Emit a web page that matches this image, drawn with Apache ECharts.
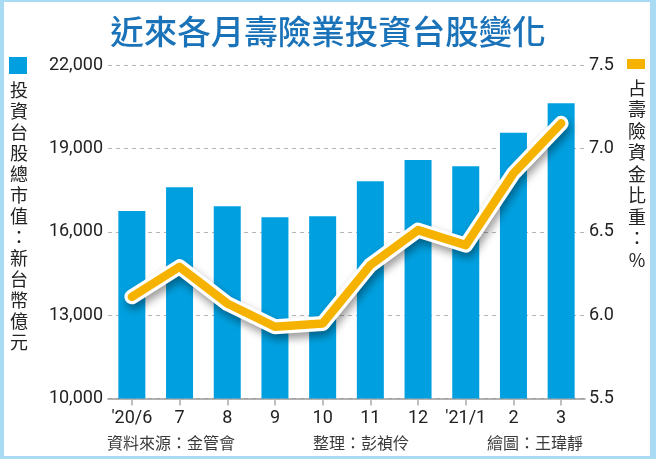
<!DOCTYPE html>
<html>
<head>
<meta charset="utf-8">
<script src="https://cdn.jsdelivr.net/npm/echarts@6/dist/echarts.min.js"></script>
<style>
  html, body { margin: 0; padding: 0; background: #fff; }
  #wrap { position: relative; width: 656px; height: 459px; }
  #chart { position: absolute; left: 0; top: 0; width: 656px; height: 459px; }
  #frame { position: absolute; left: 0; top: 0; width: 656px; height: 459px; box-sizing: border-box;
           border-style: solid; border-color: #a9dbf4; border-width: 2px 6px 3px 4px; pointer-events: none; }
</style>
</head>
<body>
<div id="wrap"><div id="chart"></div><div id="frame"></div></div>
<script>
// ---- data ----
const months = ["'20/6", "7", "8", "9", "10", "11", "12", "'21/1", "2", "3"];
const stockValue = [16750, 17600, 16920, 16520, 16560, 17820, 18580, 18360, 19560, 20620]; // 新台幣億元
const shareRatio = [6.11, 6.29, 6.07, 5.93, 5.95, 6.30, 6.51, 6.42, 6.85, 7.15];           // %
const leftTicks = [10000, 13000, 16000, 19000, 22000];
const rightTicks = [5.5, 6.0, 6.5, 7.0, 7.5];

const titleText = '近來各月壽險業投資台股變化';
const leftLabel = '投資台股總市值：新台幣億元';
const rightLabel = '占壽險資金比重：%';
const sourceText = '資料來源：金管會';
const editorText = '整理：彭禎伶';
const drawerText = '繪圖：王瑋靜';

const BLUE = '#00a0e0';
const YELLOW = '#f5b300';
const CJK = '"Noto Sans CJK TC", "Noto Sans CJK SC", sans-serif';
const NUM = 'Roboto, "Liberation Sans", sans-serif';

const chart = echarts.init(document.getElementById('chart'), null, { renderer: 'canvas' });

chart.setOption({
  backgroundColor: '#fff',
  animation: false,
  title: {
    text: titleText,
    left: 'center',
    top: 10,
    textStyle: { fontFamily: CJK, fontSize: 33.5, fontWeight: 500, color: '#1a72b9' }
  },
  grid: { left: 108, right: 71, top: 65, bottom: 60.5, containLabel: false },
  xAxis: {
    type: 'category',
    data: months,
    axisLine: { show: true, lineStyle: { color: '#999', width: 1.5 } },
    axisTick: { show: true, alignWithLabel: true, length: 7, lineStyle: { color: '#aaa', width: 1.5 } },
    axisLabel: { color: '#222', fontSize: 18, fontFamily: NUM, margin: 11, interval: 0 }
  },
  yAxis: [
    {
      type: 'value',
      min: 10000,
      max: 22000,
      interval: 1000,
      position: 'left',
      axisLine: { show: false },
      axisTick: { show: false },
      splitLine: { show: false },
      axisLabel: {
        color: '#222', fontSize: 18, fontFamily: NUM, margin: 5,
        formatter: v => leftTicks.indexOf(v) >= 0 ? v.toLocaleString('en-US') : ''
      }
    },
    {
      type: 'value',
      min: 5.5,
      max: 7.5,
      interval: 0.5,
      position: 'right',
      axisLine: { show: false },
      axisTick: { show: false },
      splitLine: { show: true, lineStyle: { color: '#b5b5b5', type: [4, 4], width: 1 } },
      axisLabel: {
        color: '#222', fontSize: 18, fontFamily: NUM, margin: 4,
        formatter: v => rightTicks.indexOf(+v.toFixed(1)) >= 0 ? v.toFixed(1) : ''
      }
    }
  ],
  series: [
    {
      name: '投資台股總市值',
      type: 'bar',
      data: stockValue,
      yAxisIndex: 0,
      barWidth: 27,
      itemStyle: { color: BLUE },
      z: 2
    },
    {
      name: 'outline',
      type: 'line',
      data: shareRatio,
      yAxisIndex: 1,
      showSymbol: false,
      symbol: 'none',
      silent: true,
      lineStyle: {
        color: '#ffffff', width: 15, cap: 'round', join: 'round',
        shadowColor: 'rgba(0,0,0,0.4)', shadowBlur: 8, shadowOffsetX: 2, shadowOffsetY: 5
      },
      z: 3
    },
    {
      name: '占壽險資金比重',
      type: 'line',
      data: shareRatio,
      yAxisIndex: 1,
      showSymbol: false,
      symbol: 'none',
      lineStyle: { color: YELLOW, width: 8.5, cap: 'round', join: 'round' },
      z: 4
    }
  ],
  graphic: [
    { type: 'rect', shape: { x: 9, y: 57, width: 18, height: 17 }, style: { fill: BLUE } },
    {
      type: 'text', x: 19, y: 80,
      style: {
        text: leftLabel.split('').join('\n'), fontFamily: CJK, fontSize: 18, lineHeight: 21,
        fill: '#222', align: 'center', verticalAlign: 'top'
      }
    },
    { type: 'rect', shape: { x: 627, y: 59, width: 18, height: 10 }, style: { fill: YELLOW } },
    {
      type: 'text', x: 637, y: 77,
      style: {
        text: rightLabel.split('').join('\n'), fontFamily: CJK, fontSize: 18, lineHeight: 21.5,
        fill: '#222', align: 'center', verticalAlign: 'top'
      }
    },
    {
      type: 'text', x: 107, y: 443,
      style: { text: sourceText, fontFamily: CJK, fontSize: 16, fill: '#3a3a3a', align: 'left', verticalAlign: 'middle' }
    },
    {
      type: 'text', x: 313, y: 443,
      style: { text: editorText, fontFamily: CJK, fontSize: 16, fill: '#3a3a3a', align: 'left', verticalAlign: 'middle' }
    },
    {
      type: 'text', x: 487, y: 443,
      style: { text: drawerText, fontFamily: CJK, fontSize: 16, fill: '#3a3a3a', align: 'left', verticalAlign: 'middle' }
    }
  ]
});
</script>
</body>
</html>
